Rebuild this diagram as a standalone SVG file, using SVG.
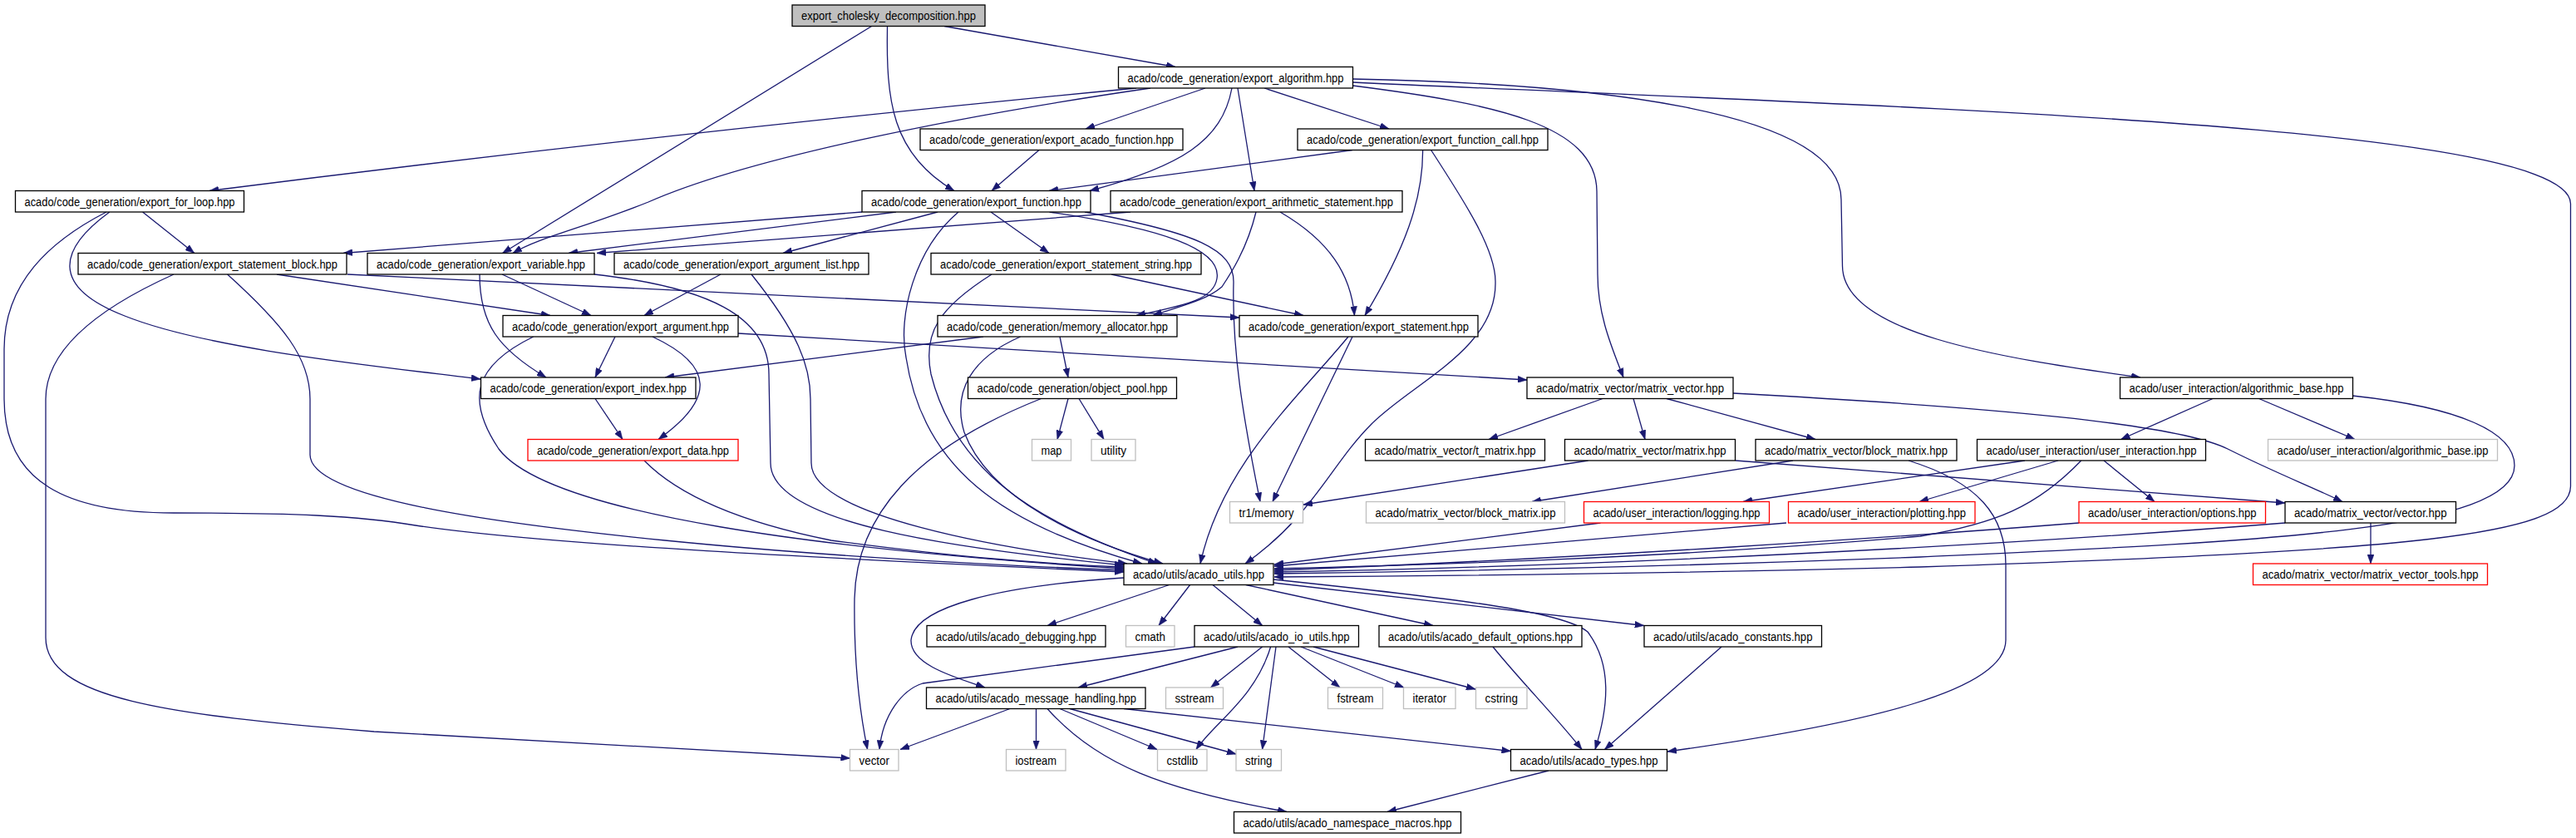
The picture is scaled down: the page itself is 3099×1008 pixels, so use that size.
<svg xmlns="http://www.w3.org/2000/svg" width="3099" height="1008" viewBox="0 0 3099 1008">
<style>
.n rect{fill:#ffffff;stroke:#000000;stroke-width:1.3}
.g rect{fill:#ffffff;stroke:#bfbfbf;stroke-width:1.3}
.r rect{fill:#ffffff;stroke:#ff0000;stroke-width:1.3}
.root rect{fill:#bfbfbf;stroke:#000000;stroke-width:1.3}
text{font-family:"Liberation Sans",Arial,sans-serif;font-size:14px;fill:#000000;text-anchor:middle}
.e path{fill:none;stroke:#191970;stroke-width:1.3;marker-end:url(#a)}
</style>
<defs>
<marker id="a" markerWidth="11" markerHeight="8" refX="11" refY="4" orient="auto" markerUnits="userSpaceOnUse"><path d="M0,0 L11,4 L0,8 z" fill="#191970" stroke="#191970" stroke-width="0.5"/></marker>
</defs>
<rect width="3099" height="1008" fill="#ffffff"/>
<g id="edges" class="e">
<path d="M1136,31.5 L1414,80.5"/>
<path d="M1067.5,31.5 C1066,120 1072,185 1148,229.5"/>
<path d="M1048.6,31.5 L604.5,304.5"/>
<path d="M1367,106 Q800,160 252,229.5"/>
<path d="M1384,106 C1150,140 900,190 780,243 C700,275 650,285 617,304.5"/>
<path d="M1450,106 L1306,155"/>
<path d="M1482,106 C1470,170 1420,200 1311,229.5"/>
<path d="M1489,106 L1509,229.5"/>
<path d="M1521,106 L1671,155"/>
<path d="M1627.5,103 C1800,125 1920,150 1921,230 L1922,330 C1922,380 1940,420 1953,454"/>
<path d="M1627.5,95 C1900,100 2215,130 2215,240 L2216.5,320 C2217,400 2400,430 2575,454"/>
<path d="M1627.5,99 C2300,130 3092,150 3092.5,245 L3092.5,585 C3092,645 2900,662 2310,682 C2000,690 1700,693 1533,694"/>
<path d="M1250,180.5 L1193,229.5"/>
<path d="M1627,180.5 L1262,229.5"/>
<path d="M1711.6,180.5 C1712,240 1690,300 1642,379.5"/>
<path d="M1721.6,180.5 C1760,240 1800,300 1799,340 C1800,420 1700,460 1650,510 C1600,560 1580,620 1498,678"/>
<path d="M171.6,255 L233.8,304.5"/>
<path d="M131.8,255 C70,300 60,345 150,380 C250,420 450,440 578,456"/>
<path d="M128,255 C60,290 5,340 5,420 L5,480 C5,580 80,617 209,617 C350,617 430,620 500,632 C650,655 1000,672 1352,688"/>
<path d="M1037,255 L413,304.5"/>
<path d="M1078,255 L684,304.5"/>
<path d="M1128,255 L942,304.5"/>
<path d="M1192,255 L1262,304.5"/>
<path d="M1262.5,255 C1400,275 1470,300 1464,335 C1460,362 1420,368 1367,379.5"/>
<path d="M1305,255 C1440,280 1485,300 1484,340 C1482,420 1495,500 1516,603.5"/>
<path d="M1153,255 C1100,300 1080,380 1090,430 C1110,560 1200,630 1374,678"/>
<path d="M1360,255 L718,304.5"/>
<path d="M1511,255 C1500,300 1480,330 1470,345 C1450,362 1420,368 1387,379.5"/>
<path d="M1540,255 C1600,290 1625,330 1629.5,379.5"/>
<path d="M333,330 L662,379.5"/>
<path d="M418,330 L1491,382"/>
<path d="M209,330 C120,370 55,420 55,480 L55,767 C55,840 200,860 450,880 L1022.5,912"/>
<path d="M273.6,330 C340,390 373,430 373,480 L373,547 C373,600 600,630 800,650 C1000,670 1200,680 1352,686"/>
<path d="M604,330 L711,379.5"/>
<path d="M577,330 C577,390 600,420 657,454"/>
<path d="M715,330 C850,345 925,380 925,450 L927,557 C927,630 1150,660 1352,680"/>
<path d="M867,330 L775,379.5"/>
<path d="M904,330 C960,400 975,440 975,480 L976,557 C976,620 1200,660 1356,678"/>
<path d="M1337,330 L1568,379.5"/>
<path d="M1193,330 C1130,370 1110,400 1120,450 C1150,570 1250,630 1392,678"/>
<path d="M740,405 L716,454"/>
<path d="M785,405 C860,440 860,480 792,528.5"/>
<path d="M888,401 L1837,457"/>
<path d="M641.7,405 C570,440 560,480 600,540 C660,620 1000,662 1352,684"/>
<path d="M1183,405 L800,454"/>
<path d="M1275,405 L1285,454"/>
<path d="M1227.6,405 C1170,430 1145,470 1160,520 C1190,600 1300,650 1399,678"/>
<path d="M1627,405 L1531,603.5"/>
<path d="M1622,405 C1560,480 1470,560 1444,678"/>
<path d="M716,479.5 L749,528.5"/>
<path d="M1285,479.5 L1272,528.5"/>
<path d="M1298,479.5 L1328,528.5"/>
<path d="M1252.5,479.5 C1100,540 1030,620 1028,720 C1027,800 1035,860 1043.6,901.5"/>
<path d="M1928,479.5 L1791,528.5"/>
<path d="M1965,479.5 L1979,528.5"/>
<path d="M2005,479.5 L2184,528.5"/>
<path d="M2085,473 C2400,490 2620,510 2680,540 C2740,570 2780,585 2818,603.5"/>
<path d="M2662,479.5 L2551.5,528.5"/>
<path d="M2717.6,479.5 L2833,528.5"/>
<path d="M2830,476 C2960,490 3025,520 3025,560 C3025,640 2700,652 2310,670 C2000,682 1700,688 1533,690"/>
<path d="M775,554 C820,600 900,630 1000,650 C1150,670 1250,678 1352,682"/>
<path d="M1910.6,554 L1568,607"/>
<path d="M2088,554 L2749,605"/>
<path d="M2157,554 L1843,603.5"/>
<path d="M2296,554 C2380,580 2413,620 2413,680 L2413,770 C2413,830 2250,870 2006,904"/>
<path d="M2436,554 L2097,603.5"/>
<path d="M2476,554 L2309,603.5"/>
<path d="M2531,554 L2592,603.5"/>
<path d="M2503.7,554 C2450,610 2400,630 2310,645 C2000,672 1700,680 1533,684"/>
<path d="M1925.5,629 L1533,679"/>
<path d="M2149,629 L1533,681"/>
<path d="M2501,629 C2300,645 1900,672 1533,686"/>
<path d="M2749,629 C2400,657 1900,682 1533,688"/>
<path d="M2852,629 L2852,678"/>
<path d="M1406.7,703.5 L1260,752.5"/>
<path d="M1431.6,703.5 L1394,752.5"/>
<path d="M1459,703.5 L1518.6,752.5"/>
<path d="M1498.8,703.5 L1724,752.5"/>
<path d="M1532,701 L1977.7,752.5"/>
<path d="M1352,695 C1200,705 1100,730 1096,770 C1095,800 1150,815 1185,827"/>
<path d="M1532,697 C1750,720 1880,735 1910,760 C1940,800 1935,850 1919,901.5"/>
<path d="M1489,778 L1297,827"/>
<path d="M1518.6,778 L1456.5,827"/>
<path d="M1437,778 L1110,822 C1085,830 1062,860 1058,901.5"/>
<path d="M1528.6,778 C1510,840 1460,870 1439,901.5"/>
<path d="M1535,778 L1518.6,901.5"/>
<path d="M1550,778 L1612,827"/>
<path d="M1565,778 L1689,827"/>
<path d="M1580,778 L1775,829"/>
<path d="M1796,778 C1830,820 1870,860 1903,901.5"/>
<path d="M2071,778 L1930.5,901.5"/>
<path d="M1215,852.5 L1083,901.5"/>
<path d="M1246.5,852.5 L1246.5,901.5"/>
<path d="M1275,852.5 L1392,901.5"/>
<path d="M1287,852.5 L1487,907"/>
<path d="M1260,852.5 C1320,920 1400,950 1548,976.5"/>
<path d="M1352,852.5 L1817.5,903.5"/>
<path d="M1863,927 L1669,976.5"/>
</g>
<g id="n0" class="root"><rect x="953" y="6" width="232" height="25.5"/><text x="1069" y="24" textLength="210" lengthAdjust="spacingAndGlyphs">export_cholesky_decomposition.hpp</text></g>
<g id="n1" class="n"><rect x="1345.5" y="80.5" width="282" height="25.5"/><text x="1486.5" y="98.5" textLength="260" lengthAdjust="spacingAndGlyphs">acado/code_generation/export_algorithm.hpp</text></g>
<g id="n2" class="n"><rect x="1107" y="155" width="316" height="25.5"/><text x="1265" y="173" textLength="294" lengthAdjust="spacingAndGlyphs">acado/code_generation/export_acado_function.hpp</text></g>
<g id="n3" class="n"><rect x="1561" y="155" width="301" height="25.5"/><text x="1711.5" y="173" textLength="279" lengthAdjust="spacingAndGlyphs">acado/code_generation/export_function_call.hpp</text></g>
<g id="n4" class="n"><rect x="18.5" y="229.5" width="275" height="25.5"/><text x="156" y="247.5" textLength="253" lengthAdjust="spacingAndGlyphs">acado/code_generation/export_for_loop.hpp</text></g>
<g id="n5" class="n"><rect x="1037" y="229.5" width="275" height="25.5"/><text x="1174.5" y="247.5" textLength="253" lengthAdjust="spacingAndGlyphs">acado/code_generation/export_function.hpp</text></g>
<g id="n6" class="n"><rect x="1336" y="229.5" width="351" height="25.5"/><text x="1511.5" y="247.5" textLength="329" lengthAdjust="spacingAndGlyphs">acado/code_generation/export_arithmetic_statement.hpp</text></g>
<g id="n7" class="n"><rect x="94" y="304.5" width="323" height="25.5"/><text x="255.5" y="322.5" textLength="301" lengthAdjust="spacingAndGlyphs">acado/code_generation/export_statement_block.hpp</text></g>
<g id="n8" class="n"><rect x="442" y="304.5" width="273" height="25.5"/><text x="578.5" y="322.5" textLength="251" lengthAdjust="spacingAndGlyphs">acado/code_generation/export_variable.hpp</text></g>
<g id="n9" class="n"><rect x="739" y="304.5" width="306" height="25.5"/><text x="892" y="322.5" textLength="284" lengthAdjust="spacingAndGlyphs">acado/code_generation/export_argument_list.hpp</text></g>
<g id="n10" class="n"><rect x="1120" y="304.5" width="325" height="25.5"/><text x="1282.5" y="322.5" textLength="303" lengthAdjust="spacingAndGlyphs">acado/code_generation/export_statement_string.hpp</text></g>
<g id="n11" class="n"><rect x="605" y="379.5" width="283" height="25.5"/><text x="746.5" y="397.5" textLength="261" lengthAdjust="spacingAndGlyphs">acado/code_generation/export_argument.hpp</text></g>
<g id="n12" class="n"><rect x="1128" y="379.5" width="288" height="25.5"/><text x="1272" y="397.5" textLength="266" lengthAdjust="spacingAndGlyphs">acado/code_generation/memory_allocator.hpp</text></g>
<g id="n13" class="n"><rect x="1491" y="379.5" width="287" height="25.5"/><text x="1634.5" y="397.5" textLength="265" lengthAdjust="spacingAndGlyphs">acado/code_generation/export_statement.hpp</text></g>
<g id="n14" class="n"><rect x="578.5" y="454" width="258.5" height="25.5"/><text x="707.75" y="472" textLength="236.5" lengthAdjust="spacingAndGlyphs">acado/code_generation/export_index.hpp</text></g>
<g id="n15" class="n"><rect x="1164.5" y="454" width="251" height="25.5"/><text x="1290" y="472" textLength="229" lengthAdjust="spacingAndGlyphs">acado/code_generation/object_pool.hpp</text></g>
<g id="n16" class="n"><rect x="1837" y="454" width="248" height="25.5"/><text x="1961" y="472" textLength="226" lengthAdjust="spacingAndGlyphs">acado/matrix_vector/matrix_vector.hpp</text></g>
<g id="n17" class="n"><rect x="2550.5" y="454" width="280" height="25.5"/><text x="2690.5" y="472" textLength="258" lengthAdjust="spacingAndGlyphs">acado/user_interaction/algorithmic_base.hpp</text></g>
<g id="n18" class="r"><rect x="635" y="528.5" width="253" height="25.5"/><text x="761.5" y="546.5" textLength="231" lengthAdjust="spacingAndGlyphs">acado/code_generation/export_data.hpp</text></g>
<g id="n19" class="g"><rect x="1241.5" y="528.5" width="47" height="25.5"/><text x="1265" y="546.5" textLength="25" lengthAdjust="spacingAndGlyphs">map</text></g>
<g id="n20" class="g"><rect x="1313" y="528.5" width="53" height="25.5"/><text x="1339.5" y="546.5" textLength="31" lengthAdjust="spacingAndGlyphs">utility</text></g>
<g id="n21" class="n"><rect x="1642.5" y="528.5" width="216" height="25.5"/><text x="1750.5" y="546.5" textLength="194" lengthAdjust="spacingAndGlyphs">acado/matrix_vector/t_matrix.hpp</text></g>
<g id="n22" class="n"><rect x="1882.5" y="528.5" width="205" height="25.5"/><text x="1985" y="546.5" textLength="183" lengthAdjust="spacingAndGlyphs">acado/matrix_vector/matrix.hpp</text></g>
<g id="n23" class="n"><rect x="2112" y="528.5" width="242" height="25.5"/><text x="2233" y="546.5" textLength="220" lengthAdjust="spacingAndGlyphs">acado/matrix_vector/block_matrix.hpp</text></g>
<g id="n24" class="n"><rect x="2378.5" y="528.5" width="275" height="25.5"/><text x="2516" y="546.5" textLength="253" lengthAdjust="spacingAndGlyphs">acado/user_interaction/user_interaction.hpp</text></g>
<g id="n25" class="g"><rect x="2728.5" y="528.5" width="276" height="25.5"/><text x="2866.5" y="546.5" textLength="254" lengthAdjust="spacingAndGlyphs">acado/user_interaction/algorithmic_base.ipp</text></g>
<g id="n26" class="g"><rect x="1479.5" y="603.5" width="88" height="25.5"/><text x="1523.5" y="621.5" textLength="66" lengthAdjust="spacingAndGlyphs">tr1/memory</text></g>
<g id="n27" class="g"><rect x="1643.5" y="603.5" width="239" height="25.5"/><text x="1763" y="621.5" textLength="217" lengthAdjust="spacingAndGlyphs">acado/matrix_vector/block_matrix.ipp</text></g>
<g id="n28" class="r"><rect x="1905.5" y="603.5" width="223" height="25.5"/><text x="2017" y="621.5" textLength="201" lengthAdjust="spacingAndGlyphs">acado/user_interaction/logging.hpp</text></g>
<g id="n29" class="r"><rect x="2151.5" y="603.5" width="224.5" height="25.5"/><text x="2263.75" y="621.5" textLength="202.5" lengthAdjust="spacingAndGlyphs">acado/user_interaction/plotting.hpp</text></g>
<g id="n30" class="r"><rect x="2501" y="603.5" width="224.5" height="25.5"/><text x="2613.25" y="621.5" textLength="202.5" lengthAdjust="spacingAndGlyphs">acado/user_interaction/options.hpp</text></g>
<g id="n31" class="n"><rect x="2749" y="603.5" width="205.5" height="25.5"/><text x="2851.75" y="621.5" textLength="183.5" lengthAdjust="spacingAndGlyphs">acado/matrix_vector/vector.hpp</text></g>
<g id="n32" class="n"><rect x="1352" y="678" width="180" height="25.5"/><text x="1442" y="696" textLength="158" lengthAdjust="spacingAndGlyphs">acado/utils/acado_utils.hpp</text></g>
<g id="n33" class="r"><rect x="2710.5" y="678" width="282" height="25.5"/><text x="2851.5" y="696" textLength="260" lengthAdjust="spacingAndGlyphs">acado/matrix_vector/matrix_vector_tools.hpp</text></g>
<g id="n34" class="n"><rect x="1115" y="752.5" width="215" height="25.5"/><text x="1222.5" y="770.5" textLength="193" lengthAdjust="spacingAndGlyphs">acado/utils/acado_debugging.hpp</text></g>
<g id="n35" class="g"><rect x="1354.5" y="752.5" width="58.5" height="25.5"/><text x="1383.75" y="770.5" textLength="36.5" lengthAdjust="spacingAndGlyphs">cmath</text></g>
<g id="n36" class="n"><rect x="1437" y="752.5" width="197.5" height="25.5"/><text x="1535.75" y="770.5" textLength="175.5" lengthAdjust="spacingAndGlyphs">acado/utils/acado_io_utils.hpp</text></g>
<g id="n37" class="n"><rect x="1659" y="752.5" width="244" height="25.5"/><text x="1781" y="770.5" textLength="222" lengthAdjust="spacingAndGlyphs">acado/utils/acado_default_options.hpp</text></g>
<g id="n38" class="n"><rect x="1978" y="752.5" width="213.5" height="25.5"/><text x="2084.75" y="770.5" textLength="191.5" lengthAdjust="spacingAndGlyphs">acado/utils/acado_constants.hpp</text></g>
<g id="n39" class="n"><rect x="1114.5" y="827" width="263.5" height="25.5"/><text x="1246.25" y="845" textLength="241.5" lengthAdjust="spacingAndGlyphs">acado/utils/acado_message_handling.hpp</text></g>
<g id="n40" class="g"><rect x="1402.5" y="827" width="69" height="25.5"/><text x="1437" y="845" textLength="47" lengthAdjust="spacingAndGlyphs">sstream</text></g>
<g id="n41" class="g"><rect x="1597.5" y="827" width="66" height="25.5"/><text x="1630.5" y="845" textLength="44" lengthAdjust="spacingAndGlyphs">fstream</text></g>
<g id="n42" class="g"><rect x="1688.5" y="827" width="62.5" height="25.5"/><text x="1719.75" y="845" textLength="40.5" lengthAdjust="spacingAndGlyphs">iterator</text></g>
<g id="n43" class="g"><rect x="1775.5" y="827" width="61.5" height="25.5"/><text x="1806.25" y="845" textLength="39.5" lengthAdjust="spacingAndGlyphs">cstring</text></g>
<g id="n44" class="g"><rect x="1022.5" y="901.5" width="58.5" height="25.5"/><text x="1051.75" y="919.5" textLength="36.5" lengthAdjust="spacingAndGlyphs">vector</text></g>
<g id="n45" class="g"><rect x="1210.5" y="901.5" width="71.5" height="25.5"/><text x="1246.25" y="919.5" textLength="49.5" lengthAdjust="spacingAndGlyphs">iostream</text></g>
<g id="n46" class="g"><rect x="1392.5" y="901.5" width="59.5" height="25.5"/><text x="1422.25" y="919.5" textLength="37.5" lengthAdjust="spacingAndGlyphs">cstdlib</text></g>
<g id="n47" class="g"><rect x="1487" y="901.5" width="54.5" height="25.5"/><text x="1514.25" y="919.5" textLength="32.5" lengthAdjust="spacingAndGlyphs">string</text></g>
<g id="n48" class="n"><rect x="1817.5" y="901.5" width="188" height="25.5"/><text x="1911.5" y="919.5" textLength="166" lengthAdjust="spacingAndGlyphs">acado/utils/acado_types.hpp</text></g>
<g id="n49" class="n"><rect x="1484.5" y="976.5" width="273" height="25.5"/><text x="1621" y="994.5" textLength="251" lengthAdjust="spacingAndGlyphs">acado/utils/acado_namespace_macros.hpp</text></g>
</svg>
